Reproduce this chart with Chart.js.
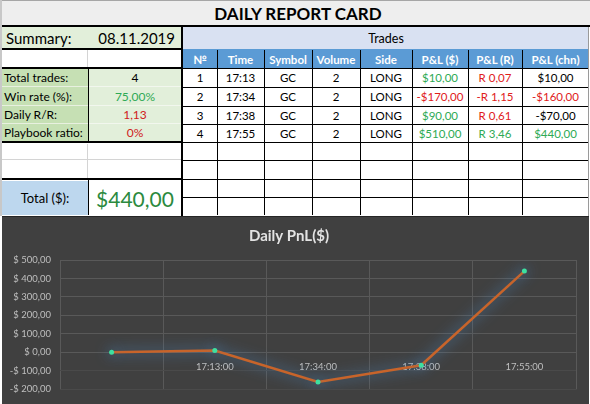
<!DOCTYPE html>
<html>
<head>
<meta charset="utf-8">
<script src="https://cdn.jsdelivr.net/npm/chart.js@4.4.0/dist/chart.umd.min.js"></script>
<style>
body { margin: 0; background: #fff; font-family: Lato, "Noto Sans", sans-serif; }
#sheet { position: relative; width: 590px; height: 404px; overflow: hidden; background: #fff; }
.c { position: absolute; box-sizing: border-box; display: flex; align-items: center; justify-content: center; white-space: nowrap; font-size: 11.5px; color: #000; }
.ln { position: absolute; background: #000; }
#chartBox { position: absolute; left: 2px; top: 216px; width: 587px; height: 188px; background: #404040; border-top: 1px solid #262626; box-sizing: border-box; }
</style>
</head>
<body>
<div id="sheet">
  <div id="chartBox"><canvas id="pnlChart"></canvas></div>
</div>
<script>
// trades table
var tradeNo = ['1', '2', '3', '4'];
var tradeTime = ['17:13', '17:34', '17:38', '17:55'];
var tradeSymbol = ['GC', 'GC', 'GC', 'GC'];
var tradeVolume = [2, 2, 2, 2];
var tradeSide = ['LONG', 'LONG', 'LONG', 'LONG'];
var pnlDollar = [10, -170, 90, 510];
var pnlR = [0.07, -1.15, 0.61, 3.46];
var pnlCum = [10, -160, -70, 440];
var pnlCumColors = ['#000', '#e0201b', '#000', '#2eaa55'];

var headers = ['№', 'Time', 'Symbol', 'Volume', 'Side', 'P&L ($)', 'P&L (R)', 'P&L (chn)'];

// summary
var summaryLabels = ['Total trades:', 'Win rate (%):', 'Daily R/R:', 'Playbook ratio:'];
var summaryValues = ['4', '75,00%', '1,13', '0%'];
var summaryColors = ['#000', '#2eaa55', '#d0201b', '#d0201b'];

// chart
var chartLabels = ['', '17:13:00', '17:34:00', '17:38:00', '17:55:00'];
var chartValues = [0, 10, -160, -70, 440];

var GREEN = '#2eaa55', RED = '#e0201b';

function money(v) {
    return (v < 0 ? '-' : '') + '$' + Math.abs(v).toFixed(2).replace('.', ',');
}
function rmult(v) {
    return (v < 0 ? '-' : '') + 'R ' + Math.abs(v).toFixed(2).replace('.', ',');
}

var sheet = document.getElementById('sheet');
function cell(x, y, w, h, text, css) {
    var d = document.createElement('div');
    d.className = 'c';
    d.style.left = x + 'px'; d.style.top = y + 'px';
    d.style.width = w + 'px'; d.style.height = h + 'px';
    d.textContent = text || '';
    if (css) d.style.cssText += css;
    sheet.insertBefore(d, document.getElementById('chartBox'));
    return d;
}
function line(x, y, w, h, color) {
    var d = document.createElement('div');
    d.className = 'ln';
    d.style.left = x + 'px'; d.style.top = y + 'px';
    d.style.width = w + 'px'; d.style.height = h + 'px';
    if (color) d.style.background = color;
    sheet.appendChild(d);
}

// title bar
cell(0, 0, 590, 25, 'DAILY REPORT CARD', 'background:#eeeeee;border-top:1px solid #a6a6a6;font-size:17px;font-weight:bold;padding-left:6px;');

// left panel
cell(2, 27, 86, 22, 'Summary:', 'background:#e2efda;font-size:15px;justify-content:flex-start;padding-left:4px;');
cell(88, 27, 93, 22, '08.11.2019', 'background:#e2efda;font-size:15px;justify-content:flex-end;padding-right:6px;');
cell(2, 50, 86, 18, '', 'border-right:1px solid #d4d4d4;');

var rowsL = [69, 87, 106, 124, 142];
for (var i = 0; i < summaryLabels.length; i++) {
    var y = rowsL[i], h = rowsL[i + 1] - y;
    cell(2, y, 86, h, summaryLabels[i], 'background:#c6e0b4;justify-content:flex-start;padding-left:2px;font-size:12px;border-bottom:1px solid #e8f0e0;');
    cell(89, y, 92, h, summaryValues[i], 'background:#e2efda;color:' + summaryColors[i] + ';font-size:12px;border-bottom:1px solid #f2f7ee;');
}
cell(2, 144, 86, 16, '', 'border-right:1px solid #d4d4d4;border-bottom:1px solid #d4d4d4;');
cell(88, 144, 93, 16, '', 'border-bottom:1px solid #d4d4d4;');
cell(2, 160, 86, 19, '', 'border-right:1px solid #d4d4d4;');
cell(2, 181, 86, 34, 'Total ($):', 'background:#bdd7ee;font-size:13px;');
cell(89, 181, 92, 34, money(pnlCum[pnlCum.length - 1]), 'color:#2b8a3e;font-size:21px;');

// left panel lines
line(0, 25, 590, 2);
line(2, 48, 180, 2);
line(2, 67, 180, 2);
line(88, 68, 1, 74);
line(2, 141, 180, 2);
line(2, 178, 180, 2);
line(88, 179, 1, 36);
line(0, 0, 2, 216, '#c8c8c8');

// right panel
var colX = [183, 217, 264, 312, 360, 412, 468, 522, 589];
var rowsR = [68, 87, 106, 124, 142, 160, 179, 197, 215];
cell(183, 27, 406, 22, 'Trades', 'background:#d9e1f2;font-size:12.5px;');
line(183, 49, 406, 1, '#5b9bd5');
for (var j = 0; j < headers.length; j++) {
    cell(colX[j], 50, colX[j + 1] - colX[j], 18, headers[j], 'background:#5b9bd5;color:#fff;font-weight:bold;font-size:11.5px;');
}
for (var r = 0; r < 8; r++) {
    var y0 = rowsR[r], hh = rowsR[r + 1] - y0;
    var vals = ['', '', '', '', '', '', '', ''], cols = ['#000', '#000', '#000', '#000', '#000', '#000', '#000', '#000'];
    if (r < tradeNo.length) {
        vals = [tradeNo[r], tradeTime[r], tradeSymbol[r], String(tradeVolume[r]), tradeSide[r],
                money(pnlDollar[r]), rmult(pnlR[r]), money(pnlCum[r])];
        cols[5] = pnlDollar[r] > 0 ? GREEN : RED;
        cols[6] = pnlR[r] >= 1 ? GREEN : RED;
        cols[7] = pnlCumColors[r];
    }
    for (var k = 0; k < 8; k++) {
        cell(colX[k], y0, colX[k + 1] - colX[k], hh, vals[k], 'color:' + cols[k] + ';');
    }
}
// grid lines of trades table
for (var a = 1; a < colX.length - 1; a++) line(colX[a], 50, 1, 165);
for (var b = 0; b < rowsR.length - 1; b++) line(183, rowsR[b], 406, 1);
line(181, 25, 2, 191);
line(588, 27, 1, 189, '#9a9a9a');

// glow around the line and points
var glow = {
    id: 'glow',
    beforeDatasetsDraw: function (chart) {
        var c = chart.ctx;
        c.save();
        c.shadowColor = 'rgba(80,150,215,0.95)';
        c.shadowBlur = 14;
    },
    afterDatasetsDraw: function (chart) {
        chart.ctx.restore();
    }
};

var tickFont = { family: 'Lato', size: 9.5 };
var ctx = document.getElementById('pnlChart').getContext('2d');
var pnlChart = new Chart(ctx, {
    type: 'line',
    data: {
        labels: chartLabels,
        datasets: [{
            label: 'PnL',
            data: chartValues,
            borderColor: '#c8642a',
            borderWidth: 2.5,
            tension: 0,
            pointRadius: 2.5,
            pointBorderWidth: 0,
            pointBackgroundColor: '#3ee0a0'
        }]
    },
    options: {
        responsive: true,
        maintainAspectRatio: false,
        animation: false,
        layout: { padding: { left: 0, right: 13, top: 0, bottom: 14 } },
        plugins: {
            legend: { display: false },
            tooltip: { enabled: false },
            title: {
                display: true,
                text: 'Daily PnL($)',
                color: '#e3e3e3',
                font: { family: 'Lato', size: 15, weight: 'bold' },
                padding: { top: 10, bottom: 15 }
            }
        },
        scales: {
            x: {
                type: 'category',
                offset: true,
                position: { y: 0 },
                grid: {
                    offset: true,
                    drawTicks: false,
                    color: '#595959'
                },
                border: { display: false },
                ticks: { color: '#bfbfbf', font: tickFont, padding: 9, maxRotation: 0, autoSkip: false }
            },
            y: {
                min: -200,
                max: 500,
                afterFit: function (scale) { scale.width = 58; },
                grid: {
                    drawTicks: false,
                    color: function (c) {
                        return c.tick && c.tick.value < 0 ? '#4a4a4a' : '#595959';
                    }
                },
                border: { display: false },
                ticks: {
                    stepSize: 100,
                    color: '#bfbfbf',
                    font: tickFont,
                    padding: 9,
                    callback: function (v) {
                        return (v < 0 ? '-$ ' : '$ ') + Math.abs(v).toFixed(2).replace('.', ',');
                    }
                }
            }
        }
    },
    plugins: [glow]
});
</script>
</body>
</html>
